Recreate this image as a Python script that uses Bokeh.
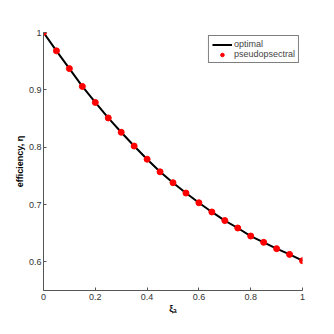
from bokeh.plotting import figure
from bokeh.models import Range1d, Legend, LegendItem, FixedTicker
from bokeh.embed import file_html
from bokeh.resources import INLINE

xi_a = [0.0, 0.05, 0.1, 0.15, 0.2, 0.25, 0.3, 0.35, 0.4, 0.45, 0.5,
        0.55, 0.6, 0.65, 0.7, 0.75, 0.8, 0.85, 0.9, 0.95, 1.0]
eta_optimal = [1.0, 0.968, 0.937, 0.906, 0.878, 0.851, 0.826, 0.802, 0.779, 0.757, 0.738,
               0.720, 0.703, 0.687, 0.672, 0.659, 0.645, 0.634, 0.623, 0.613, 0.602]
eta_pseudo = [1.0, 0.968, 0.937, 0.906, 0.878, 0.851, 0.826, 0.802, 0.779, 0.757, 0.738,
              0.720, 0.703, 0.687, 0.672, 0.659, 0.645, 0.634, 0.623, 0.613, 0.602]
x_ticks = [0, 0.2, 0.4, 0.6, 0.8, 1]
y_ticks = [0.6, 0.7, 0.8, 0.9, 1]

FONT = "Liberation Sans"

p = figure(width=326, height=326, output_backend="svg", toolbar_location=None,
           x_range=Range1d(0, 1), y_range=Range1d(0.55, 1.0),
           min_border_left=43, min_border_right=24, min_border_top=32, min_border_bottom=36)
p.background_fill_color = "white"
p.border_fill_color = "white"
p.outline_line_color = None
p.grid.visible = False

l1 = p.line(xi_a, eta_optimal, line_color="black", line_width=2)
c1 = p.scatter(xi_a, eta_pseudo, marker="circle", size=6, fill_color="#ff0000", line_color="#ff0000")

for ax in (p.xaxis[0], p.yaxis[0]):
    ax.axis_line_color = "#555555"
    ax.major_tick_line_color = "#555555"
    ax.major_tick_in = 3
    ax.major_tick_out = 0
    ax.minor_tick_line_color = None
    ax.major_label_text_font = FONT
    ax.major_label_text_font_size = "9px"
    ax.major_label_text_color = "#333333"
    ax.axis_label_text_font = FONT
    ax.axis_label_text_font_style = "bold"
    ax.axis_label_text_font_size = "9px"
    ax.axis_label_text_color = "black"

p.xaxis.ticker = FixedTicker(ticks=x_ticks)
p.yaxis.ticker = FixedTicker(ticks=y_ticks)
p.xaxis.major_label_overrides = {0: "0", 1: "1"}
p.yaxis.major_label_overrides = {1: "1"}
p.xaxis.major_label_standoff = 3
p.yaxis.major_label_standoff = 2
p.xaxis.axis_label = "ξₐ"
p.yaxis.axis_label = "efficiency, η"
p.xaxis.axis_label_standoff = 1
p.yaxis.axis_label_standoff = 1

legend = Legend(items=[LegendItem(label="optimal", renderers=[l1]),
                       LegendItem(label="pseudopsectral", renderers=[c1])],
                location="top_right")
legend.border_line_color = "black"
legend.border_line_width = 1
legend.label_text_font = FONT
legend.label_text_font_size = "9px"
legend.label_height = 9
legend.glyph_height = 9
legend.glyph_width = 20
legend.spacing = 0
legend.padding = 3
legend.margin = 3
legend.label_standoff = 2
p.add_layout(legend)

open("out.html", "w").write(file_html(p, INLINE))
